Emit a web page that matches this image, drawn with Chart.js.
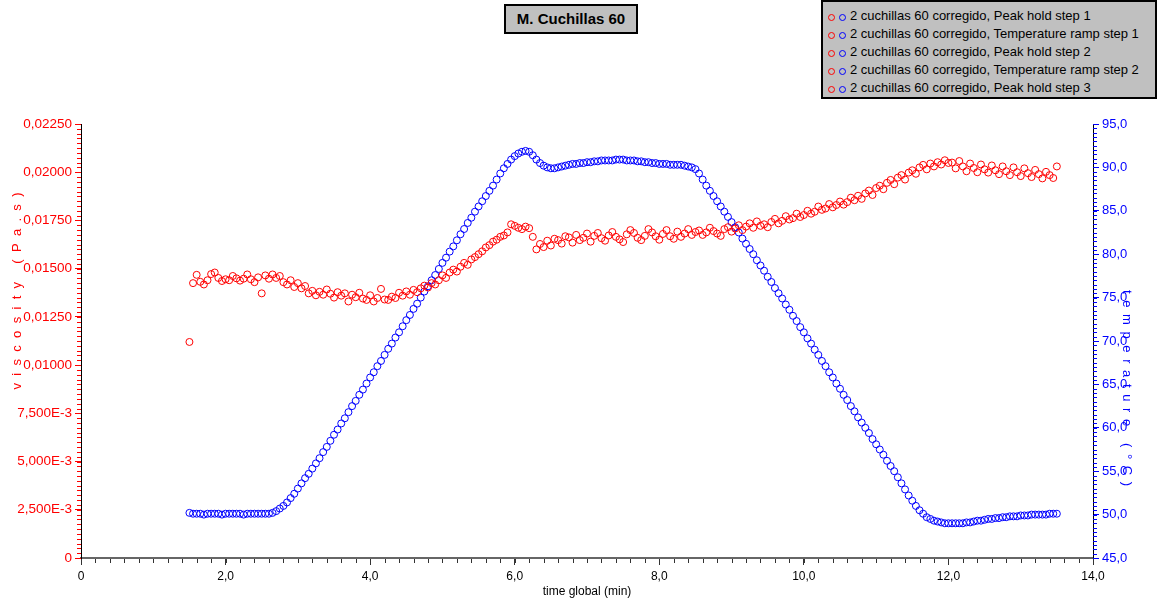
<!DOCTYPE html>
<html>
<head>
<meta charset="utf-8">
<script src="https://cdn.jsdelivr.net/npm/chart.js@4.4.1/dist/chart.umd.min.js"></script>
<style>
  body { margin: 0; background: #fff; }
  #wrap { position: relative; width: 1158px; height: 603px; font-family: "Liberation Sans", Arial, sans-serif; }
  #chart { position: absolute; left: 0; top: 0; }
  #title {
    position: absolute; left: 504px; top: 4px; width: 134px; height: 30px;
    box-sizing: border-box; border: 2px solid #000; background: #c0c0c0;
    font: bold 15px "Liberation Sans", Arial, sans-serif; line-height: 26px; text-align: center; color: #000;
  }
  #legend {
    position: absolute; left: 821px; top: 0; width: 336px; height: 99px;
    box-sizing: border-box; border: 2px solid #000; background: #c0c0c0;
    padding: 5px 0 0 5px; font: 13px "Liberation Sans", Arial, sans-serif; color: #000;
  }
  #legend .row { height: 18px; line-height: 18px; white-space: nowrap; }
  #legend .dot {
    display: inline-block; width: 5px; height: 5px; border-radius: 50%;
    border: 1px solid; margin-right: 4px; vertical-align: -1px;
  }
</style>
</head>
<body>
<div id="wrap">
  <canvas id="chart" width="1158" height="603"></canvas>
  <div id="title">M. Cuchillas 60</div>
  <div id="legend"></div>
</div>
<script>
const stepNames = [
  "2 cuchillas 60 corregido, Peak hold step 1",
  "2 cuchillas 60 corregido, Temperature ramp step 1",
  "2 cuchillas 60 corregido, Peak hold step 2",
  "2 cuchillas 60 corregido, Temperature ramp step 2",
  "2 cuchillas 60 corregido, Peak hold step 3"
];

// time global (min)
const tHold1 = [1.50,1.55,1.60,1.65,1.70,1.75,1.80,1.85,1.90,1.95,2.00,2.05,2.10,2.15,2.20,2.25,2.30,2.35,2.40,2.45,2.50,2.55,2.60];
const tRamp1 = [
  2.65,2.70,2.75,2.80,2.85,2.90,2.95,3.00,3.05,3.10,
  3.15,3.20,3.25,3.30,3.35,3.40,3.45,3.50,3.55,3.60,
  3.65,3.70,3.75,3.80,3.85,3.90,3.95,4.00,4.05,4.10,
  4.15,4.20,4.25,4.30,4.35,4.40,4.45,4.50,4.55,4.60,
  4.65,4.70,4.75,4.80,4.85,4.90,4.95,5.00,5.05,5.10,
  5.15,5.20,5.25,5.30,5.35,5.40,5.45,5.50,5.55,5.60,
  5.65,5.70,5.75,5.80,5.85,5.90,5.95,6.00,6.05,6.10,
  6.15,6.20];
const tHold2 = [
  6.25,6.30,6.35,6.40,6.45,6.50,6.55,6.60,6.65,6.70,
  6.75,6.80,6.85,6.90,6.95,7.00,7.05,7.10,7.15,7.20,
  7.25,7.30,7.35,7.40,7.45,7.50,7.55,7.60,7.65,7.70,
  7.75,7.80,7.85,7.90,7.95,8.00,8.05,8.10,8.15,8.20,
  8.25,8.30,8.35,8.40,8.45,8.50];
const tRamp2 = [
  8.55,8.60,8.65,8.70,8.75,8.80,8.85,8.90,8.95,9.00,
  9.05,9.10,9.15,9.20,9.25,9.30,9.35,9.40,9.45,9.50,
  9.55,9.60,9.65,9.70,9.75,9.80,9.85,9.90,9.95,10.00,
  10.05,10.10,10.15,10.20,10.25,10.30,10.35,10.40,10.45,10.50,
  10.55,10.60,10.65,10.70,10.75,10.80,10.85,10.90,10.95,11.00,
  11.05,11.10,11.15,11.20,11.25,11.30,11.35,11.40,11.45,11.50,
  11.55,11.60,11.65,11.70,11.75,11.80,11.85,11.90,11.95,12.00];
const tHold3 = [
  12.05,12.10,12.15,12.20,12.25,12.30,12.35,12.40,12.45,12.50,
  12.55,12.60,12.65,12.70,12.75,12.80,12.85,12.90,12.95,13.00,
  13.05,13.10,13.15,13.20,13.25,13.30,13.35,13.40,13.45,13.50];

// viscosity (Pa.s)
const visHold1 = [0.01120,0.01425,0.01468,0.01432,0.01418,0.01440,0.01472,0.01480,0.01452,0.01436,0.01445,0.01440,0.01462,0.01450,0.01438,0.01448,0.01470,0.01445,0.01430,0.01455,0.01372,0.01465,0.01448];
const visRamp1 = [
  0.01470,0.01452,0.01462,0.01430,0.01418,0.01440,0.01405,0.01425,0.01398,0.01410,
  0.01372,0.01385,0.01362,0.01380,0.01365,0.01392,0.01370,0.01350,0.01378,0.01360,
  0.01372,0.01330,0.01365,0.01352,0.01375,0.01345,0.01338,0.01362,0.01330,0.01348,
  0.01395,0.01340,0.01338,0.01355,0.01348,0.01375,0.01360,0.01382,0.01365,0.01390,
  0.01378,0.01398,0.01412,0.01402,0.01425,0.01418,0.01440,0.01465,0.01452,0.01480,
  0.01495,0.01485,0.01510,0.01530,0.01520,0.01548,0.01560,0.01575,0.01590,0.01610,
  0.01622,0.01640,0.01650,0.01665,0.01672,0.01688,0.01730,0.01722,0.01712,0.01705,
  0.01718,0.01710];
const visHold2 = [
  0.01665,0.01600,0.01628,0.01612,0.01645,0.01620,0.01655,0.01648,0.01630,0.01668,
  0.01662,0.01635,0.01675,0.01648,0.01660,0.01682,0.01640,0.01670,0.01685,0.01658,
  0.01645,0.01672,0.01690,0.01665,0.01652,0.01638,0.01678,0.01700,0.01685,0.01660,
  0.01648,0.01670,0.01705,0.01688,0.01668,0.01650,0.01680,0.01700,0.01668,0.01655,
  0.01692,0.01665,0.01682,0.01705,0.01675,0.01690];
const visRamp2 = [
  0.01698,0.01675,0.01688,0.01712,0.01695,0.01682,0.01670,0.01705,0.01715,0.01692,
  0.01708,0.01725,0.01700,0.01718,0.01735,0.01712,0.01745,0.01722,0.01730,0.01715,
  0.01742,0.01758,0.01735,0.01748,0.01772,0.01755,0.01762,0.01785,0.01768,0.01778,
  0.01800,0.01785,0.01795,0.01822,0.01805,0.01812,0.01835,0.01818,0.01830,0.01848,
  0.01832,0.01845,0.01868,0.01855,0.01878,0.01862,0.01890,0.01905,0.01882,0.01918,
  0.01930,0.01912,0.01945,0.01960,0.01938,0.01972,0.01985,0.01962,0.01998,0.02010,
  0.01992,0.02025,0.02038,0.02015,0.02045,0.02030,0.02052,0.02040,0.02062,0.02048];
const visHold3 = [
  0.02050,0.02020,0.02058,0.02030,0.02005,0.02045,0.02022,0.02000,0.02040,0.02015,
  0.01998,0.02035,0.02010,0.01990,0.02030,0.02005,0.01985,0.02025,0.02000,0.01980,
  0.02020,0.01995,0.01975,0.02012,0.01990,0.01968,0.02002,0.01985,0.01970,0.02030];

// temperature (°C)
const tempHold1 = [50.2,50.1,50.1,50.1,50.0,50.1,50.1,50.1,50.1,50.0,50.1,50.1,50.1,50.1,50.1,50.0,50.1,50.1,50.1,50.1,50.1,50.1,50.1];
const tempRamp1 = [
  50.2,50.4,50.7,51.0,51.4,51.9,52.4,53.0,53.6,54.2,
  54.7,55.3,55.9,56.5,57.2,57.8,58.5,59.2,59.8,60.5,
  61.1,61.8,62.5,63.1,63.8,64.4,65.1,65.8,66.4,67.1,
  67.7,68.4,69.1,69.7,70.4,71.0,71.7,72.4,73.0,73.7,
  74.3,75.0,75.7,76.3,77.0,77.6,78.3,79.0,79.6,80.3,
  80.9,81.6,82.3,82.9,83.6,84.2,84.9,85.5,86.1,86.7,
  87.3,87.9,88.6,89.3,89.9,90.4,90.9,91.3,91.6,91.8,
  91.9,91.8];
const tempHold2 = [
  91.4,90.9,90.5,90.2,90.0,89.9,89.9,90.0,90.1,90.2,
  90.3,90.4,90.4,90.5,90.5,90.6,90.6,90.7,90.7,90.8,
  90.8,90.8,90.8,90.9,90.9,90.9,90.8,90.8,90.8,90.7,
  90.7,90.6,90.6,90.5,90.5,90.4,90.4,90.4,90.3,90.3,
  90.3,90.3,90.2,90.1,90.0,89.8];
const tempRamp2 = [
  89.3,88.6,87.9,87.3,86.7,86.1,85.5,84.9,84.3,83.7,
  83.1,82.5,81.8,81.2,80.6,80.0,79.3,78.7,78.1,77.4,
  76.8,76.1,75.5,74.9,74.2,73.6,72.9,72.3,71.6,71.0,
  70.3,69.7,69.0,68.4,67.7,67.1,66.4,65.8,65.1,64.5,
  63.8,63.2,62.5,61.9,61.2,60.6,60.0,59.4,58.7,58.1,
  57.5,56.9,56.2,55.6,55.0,54.3,53.6,52.9,52.2,51.6,
  51.0,50.5,50.1,49.7,49.5,49.3,49.2,49.1,49.0,49.0];
const tempHold3 = [
  49.0,49.0,49.0,49.0,49.1,49.1,49.2,49.3,49.3,49.4,
  49.5,49.5,49.6,49.6,49.7,49.7,49.8,49.8,49.8,49.9,
  49.9,49.9,50.0,50.0,50.0,50.0,50.0,50.1,50.1,50.1];

const stepTimes = [tHold1, tRamp1, tHold2, tRamp2, tHold3];
const stepVis = [visHold1, visRamp1, visHold2, visRamp2, visHold3];
const stepTemp = [tempHold1, tempRamp1, tempHold2, tempRamp2, tempHold3];

const RED = '#ff0000';
const BLUE = '#0000ff';
const FONT = '"Liberation Sans", Arial, sans-serif';

function pts(ts, vs) {
  return ts.map((t, i) => ({ x: t, y: vs[i] }));
}

const datasets = [];
stepNames.forEach((name, i) => {
  datasets.push({
    label: name + ' (viscosity)', data: pts(stepTimes[i], stepVis[i]), yAxisID: 'y',
    borderColor: RED, backgroundColor: 'transparent', pointRadius: 3.5, pointBorderWidth: 1, showLine: false
  });
  datasets.push({
    label: name + ' (temperature)', data: pts(stepTimes[i], stepTemp[i]), yAxisID: 'y1',
    borderColor: BLUE, backgroundColor: 'transparent', pointRadius: 3.5, pointBorderWidth: 1, showLine: false
  });
});

// legend box
const legendEl = document.getElementById('legend');
stepNames.forEach(name => {
  const row = document.createElement('div');
  row.className = 'row';
  row.innerHTML = '<span class="dot" style="border-color:' + RED + '"></span>' +
    '<span class="dot" style="border-color:' + BLUE + '"></span>' + name;
  legendEl.appendChild(row);
});

const comma = s => s.replace('.', ',');

// letters spread out along the axis, like the original axis titles
function spacedText(ctx, text, cx, cy, angle, length) {
  ctx.save();
  ctx.translate(cx, cy);
  ctx.rotate(angle);
  ctx.textAlign = 'left';
  ctx.textBaseline = 'middle';
  const chars = [...text];
  const widths = chars.map(c => ctx.measureText(c).width);
  const natural = widths.reduce((a, b) => a + b, 0);
  const gap = (length - natural) / (chars.length - 1);
  let x = -length / 2;
  chars.forEach((c, i) => { ctx.fillText(c, x, 0); x += widths[i] + gap; });
  ctx.restore();
}

const axisExtras = {
  id: 'axisExtras',
  afterDraw(chart) {
    const ctx = chart.ctx;
    const { x, y, y1 } = chart.scales;
    ctx.save();
    ctx.lineWidth = 1;

    // minor ticks
    ctx.strokeStyle = '#333';
    ctx.beginPath();
    for (let i = 0; i <= 70; i++) {
      const px = Math.round(x.getPixelForValue(i * 0.2)) + 0.5;
      ctx.moveTo(px, x.top + 1);
      ctx.lineTo(px, x.top + 5);
    }
    ctx.stroke();

    ctx.strokeStyle = RED;
    ctx.beginPath();
    for (let i = 0; i <= 90; i++) {
      const py = Math.round(y.getPixelForValue(i * 0.00025)) + 0.5;
      ctx.moveTo(y.right - 4, py);
      ctx.lineTo(y.right, py);
    }
    ctx.stroke();

    ctx.strokeStyle = BLUE;
    ctx.beginPath();
    for (let i = 0; i <= 100; i++) {
      const py = Math.round(y1.getPixelForValue(45 + i * 0.5)) + 0.5;
      ctx.moveTo(y1.left, py);
      ctx.lineTo(y1.left + 4, py);
    }
    ctx.stroke();

    // axis titles
    ctx.font = '12px ' + FONT;
    ctx.fillStyle = '#000';
    ctx.textAlign = 'center';
    ctx.textBaseline = 'middle';
    ctx.fillText('time global (min)', (chart.chartArea.left + chart.chartArea.right) / 2, 592);

    ctx.font = '13px ' + FONT;
    ctx.fillStyle = RED;
    spacedText(ctx, 'viscosity (Pa.s)', 17, 291, -Math.PI / 2, 197);
    ctx.fillStyle = BLUE;
    spacedText(ctx, 'temperature (°C)', 1127, 388, Math.PI / 2, 196);
    ctx.restore();
  }
};

new Chart(document.getElementById('chart'), {
  type: 'scatter',
  data: { datasets: datasets },
  options: {
    responsive: false,
    animation: false,
    devicePixelRatio: 1,
    layout: { padding: { top: 124, left: 0, right: 0, bottom: 0 } },
    plugins: { legend: { display: false }, tooltip: { enabled: false }, title: { display: false } },
    scales: {
      x: {
        type: 'linear', position: 'bottom', min: 0, max: 14,
        ticks: {
          stepSize: 2, autoSkip: false, maxRotation: 0, padding: 4, color: '#000',
          font: { family: FONT, size: 12 },
          callback: v => v === 0 ? '0' : comma(v.toFixed(1))
        },
        grid: { drawOnChartArea: false, drawTicks: true, tickLength: 7, tickColor: '#333' },
        border: { color: '#666', width: 2 },
        afterFit(s) { s.height = 45; }
      },
      y: {
        position: 'left', min: 0, max: 0.0225,
        ticks: {
          stepSize: 0.0025, autoSkip: false, padding: 3, color: RED,
          font: { family: FONT, size: 13.5 },
          callback: v => {
            if (Math.abs(v) < 1e-9) return '0';
            if (v >= 0.00999) return comma(v.toFixed(5));
            return comma((v * 1000).toFixed(3)) + 'E-3';
          }
        },
        grid: { drawOnChartArea: false, drawTicks: true, tickLength: 6, tickColor: RED },
        border: { color: '#000', width: 1 },
        afterFit(s) { s.width = 81; }
      },
      y1: {
        position: 'right', min: 45, max: 95,
        ticks: {
          stepSize: 5, autoSkip: false, padding: 3, color: BLUE,
          font: { family: FONT, size: 13 },
          callback: v => comma(v.toFixed(1))
        },
        grid: { drawOnChartArea: false, drawTicks: true, tickLength: 6, tickColor: BLUE },
        border: { color: '#000', width: 1 },
        afterFit(s) { s.width = 65; }
      }
    }
  },
  plugins: [axisExtras]
});
</script>
</body>
</html>
